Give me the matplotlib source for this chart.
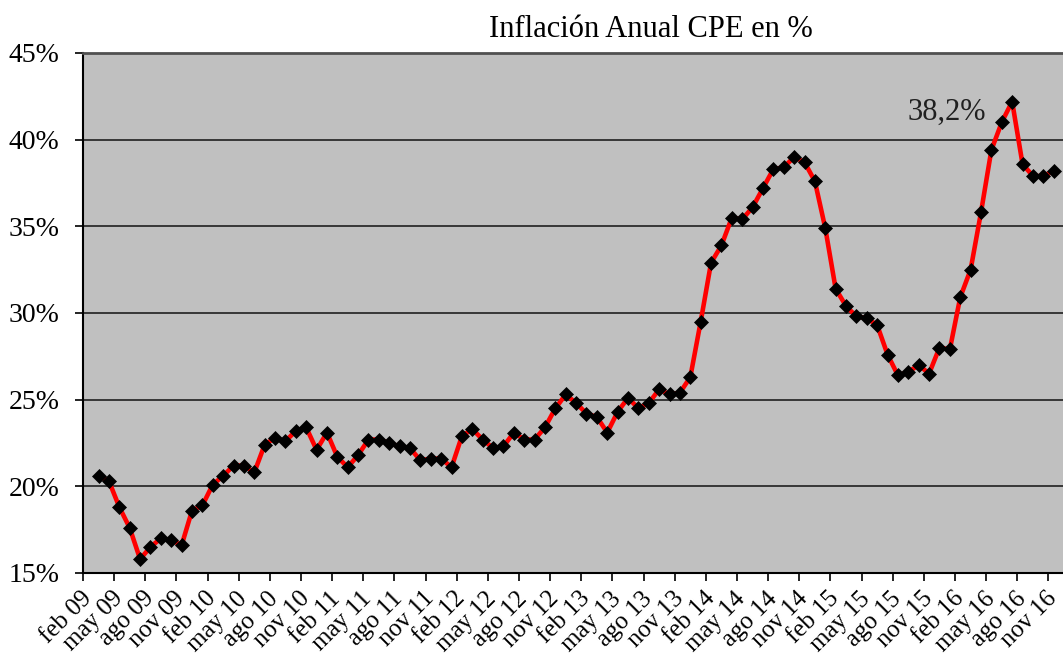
import numpy as np
import matplotlib
matplotlib.use('Agg')
from matplotlib import pyplot as plt

meses = ['ene', 'feb', 'mar', 'abr', 'may', 'jun', 'jul', 'ago', 'sep', 'oct', 'nov', 'dic']
# categorias del eje: feb 09 ... nov 16
categorias = [m + ' ' + str(a)[2:] for a in range(2009, 2017) for m in meses][1:-1]

# inflacion anual en %, desde mar 09 hasta nov 16
inflacion = [20.6, 20.3, 18.8, 17.6, 15.8, 16.5, 17.0, 16.9, 16.6, 18.6,
             18.9, 20.1, 20.6, 21.2, 21.2, 20.8, 22.4, 22.8, 22.6, 23.2,
             23.4, 22.1, 23.1, 21.7, 21.1, 21.8, 22.7, 22.7, 22.5, 22.3,
             22.2, 21.5, 21.6, 21.6, 21.1, 22.9, 23.3, 22.7, 22.2, 22.3,
             23.1, 22.7, 22.7, 23.4, 24.5, 25.3, 24.8, 24.2, 24.0, 23.1,
             24.3, 25.1, 24.5, 24.8, 25.6, 25.3, 25.4, 26.3, 29.5, 32.9,
             33.9, 35.5, 35.4, 36.1, 37.2, 38.3, 38.4, 39.0, 38.7, 37.6,
             34.9, 31.4, 30.4, 29.8, 29.7, 29.3, 27.6, 26.4, 26.6, 27.0,
             26.5, 28.0, 27.9, 30.9, 32.5, 35.8, 39.4, 41.0, 42.2, 38.6,
             37.9, 37.9, 38.2]
ultimo_valor = '38,2%'

x = np.arange(len(categorias) - len(inflacion), len(categorias))
fuente = 'Liberation Serif'

fig = plt.figure(figsize=(10.63, 6.6), dpi=100)
ax = fig.add_axes([83 / 1063, 1 - 573 / 660, 1 - 83 / 1063, (573 - 53) / 660])
ax.set_facecolor('#c0c0c0')

ax.plot(x, inflacion, color='#ff0000', linewidth=3.3, zorder=3)
ax.plot(x, inflacion, linestyle='none', marker='D', markersize=6.8,
        color='black', markeredgewidth=0.5, zorder=4)

ax.set_ylim(15, 45)
ax.set_xlim(-0.5, 93.9)
yt = np.arange(15, 46, 5)
ax.set_yticks(yt)
ax.set_yticklabels([str(v) + '%' for v in yt], family=fuente, fontsize=20)
ax.yaxis.grid(True, color='#202020', linewidth=1.2)
ax.set_axisbelow(True)

# marcas entre categorias, etiquetas en la categoria
ax.set_xticks(np.arange(-0.5, len(categorias), 3))
ax.set_xticklabels([])
ax.set_xticks(np.arange(0, len(categorias), 3), minor=True)
ax.set_xticklabels(categorias[::3], minor=True, family=fuente, fontsize=18,
                   rotation=45, ha='right', va='center', rotation_mode='anchor')
ax.tick_params(axis='x', which='major', direction='out', length=6, width=1.2)
ax.tick_params(axis='x', which='minor', length=0, pad=16)
ax.tick_params(axis='y', direction='out', length=6, width=1.2, pad=11)

for s in ['left', 'bottom']:
    ax.spines[s].set_linewidth(1.5)
    ax.spines[s].set_color('black')
ax.spines['right'].set_visible(False)
ax.spines['top'].set_color('#505050')
ax.spines['top'].set_linewidth(2)

ax.text(82.75, 41.16, ultimo_valor, family=fuente, fontsize=22,
        ha='center', va='baseline', color='#202020')
fig.text(651 / 1063, 1 - 37 / 660, 'Inflación Anual CPE en %', family=fuente,
         fontsize=22, ha='center', va='baseline')

fig.savefig('out.png', dpi=100)
